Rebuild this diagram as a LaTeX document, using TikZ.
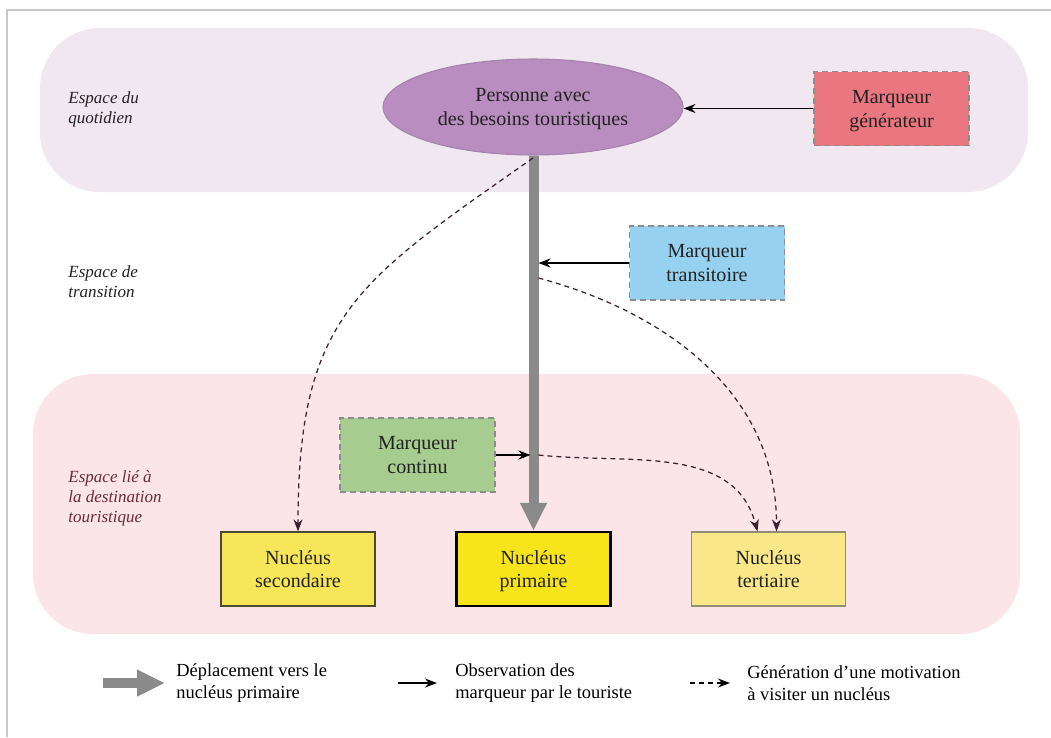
\documentclass[tikz,border=0pt]{standalone}
\usepackage{fontspec}
\setmainfont{Liberation Serif}
\usepackage{xcolor}
\usepackage{tikz}
\usetikzlibrary{arrows.meta,shapes.geometric,backgrounds}

\definecolor{quotbg}{HTML}{F1E7F1}
\definecolor{destbg}{HTML}{FBE5E8}
\definecolor{persfill}{HTML}{B98DBF}
\definecolor{persline}{HTML}{A384AA}
\definecolor{genfill}{HTML}{EA7680}
\definecolor{transfill}{HTML}{96D2EF}
\definecolor{contfill}{HTML}{A6CC8F}
\definecolor{secfill}{HTML}{F7E657}
\definecolor{primfill}{HTML}{F7E41A}
\definecolor{tertfill}{HTML}{F9E78A}
\definecolor{marqline}{HTML}{8C8C8C}
\definecolor{bargray}{HTML}{8A8A8A}
\definecolor{motivcol}{HTML}{3A2030}
\definecolor{textdark}{HTML}{222222}
\definecolor{destlbl}{HTML}{6B2B3B}
\definecolor{framegray}{HTML}{C8C8C8}

\begin{document}
\begin{tikzpicture}[
    font=\rmfamily\fontsize{11.4}{13.6}\selectfont,
    >={Stealth[length=2.4mm]},
    band/.style   ={rounded corners=1.2cm, inner sep=0pt},
    boxtxt/.style ={align=center, text=textdark, inner sep=2pt,
                    execute at begin node=\strut, text depth=0pt},
    marq/.style   ={boxtxt, draw=marqline, dash pattern=on 1.2mm off 0.8mm, line width=0.8pt,
                    minimum width=3.1cm, minimum height=1.48cm},
    nucl/.style   ={boxtxt, line width=0.7pt, minimum width=3.08cm, minimum height=1.48cm},
    espace/.style ={font=\rmfamily\fontsize{9.7}{11.4}\selectfont\itshape, align=left,
                    anchor=west, inner sep=0pt, text=textdark},
    legtxt/.style ={font=\rmfamily\fontsize{10.5}{12.5}\selectfont, align=left,
                    anchor=west, inner sep=0pt},
    depl/.style   ={-{Triangle[length=5.6mm, width=5mm]}, line width=2mm, draw=bargray},
    obs/.style    ={->, line width=0.8pt, draw=black},
    motiv/.style  ={->, line width=0.7pt, dash pattern=on 1mm off 0.8mm, draw=motivcol}
]

\useasboundingbox (0,0) rectangle (21.02,-14.74);

% --- Screenshot frame (top and left edges only). ---
\draw[framegray, line width=0.8pt] (21.02,-0.2) -- (0.14,-0.2) -- (0.14,-14.74);

% --- The two coloured spaces. ---
\node[band, fill=quotbg, minimum width=19.76cm, minimum height=3.28cm]
  (bandquot) at (10.68,-2.20) {};
\node[band, fill=destbg, minimum width=19.74cm, minimum height=5.2cm]
  (banddest) at (10.53,-10.08) {};

\node[espace] (lblquot)  at (1.36,-2.18) {Espace du\\quotidien};
\node[espace] (lbltrans) at (1.36,-5.64) {Espace de\\transition};
\node[espace, text=destlbl] (lbldest) at (1.36,-9.96)
  {Espace lié à\\la destination\\touristique};

% --- Tourist and markers. ---
\node[boxtxt, ellipse, draw=persline, line width=0.6pt, fill=persfill, minimum width=6cm,
      minimum height=1.92cm, inner sep=0pt]
  (pers) at (10.66,-2.14) {Personne avec\\des besoins touristiques};
\node[marq, fill=genfill]   (gen)   at (17.83,-2.17) {Marqueur\\générateur};
\node[marq, fill=transfill] (trans) at (14.14,-5.26) {Marqueur\\transitoire};
\node[marq, fill=contfill]  (cont)  at ( 8.35,-9.10) {Marqueur\\continu};

% --- Nuclei row. ---
\node[nucl, draw=black!60!olive, fill=secfill]      (sec)  at ( 5.96,-11.38) {Nucléus\\secondaire};
\node[nucl, draw=black, line width=1.2pt, fill=primfill] (prim) at (10.67,-11.38) {Nucléus\\primaire};
\node[nucl, draw=gray!80!olive, fill=tertfill]      (tert) at (15.37,-11.38) {Nucléus\\tertiaire};

% --- Travel towards the primary nucleus. ---
\draw[depl] (pers.south -| prim.north) -- (prim.north);

% --- Points where the markers meet the travel line. ---
\coordinate (ongen)    at (gen.west -| pers.east);
\coordinate (ontrans)  at ([xshift=1mm]trans.west -| prim.north);
\coordinate (offtrans) at ([xshift=1mm,yshift=-3mm]trans.west -| prim.north);
\coordinate (oncont)   at ([xshift=-0.6mm]cont.east -| prim.north);
\coordinate (offcont)  at ([xshift=1mm]cont.east -| prim.north);

% --- Observation of the markers. ---
\draw[obs] (gen.west)   -- (ongen);
\draw[obs] (trans.west) -- (ontrans);
\draw[obs] (cont.east)  -- (oncont);

% --- Motivations to visit a nucleus. ---
\draw[motiv] ([yshift=-0.5mm]pers.south) to[out=215, in=90, looseness=1.25] (sec.north);
\draw[motiv] (offtrans) to[out=-15, in=90] ([xshift=0.16cm]tert.north);
\draw[motiv] (offcont)  to[out=-6, in=105] ([xshift=-0.22cm]tert.north);

% --- Legend. ---
\coordinate (leg1a) at (2.06,-13.66);
\coordinate (leg1b) at (3.30,-13.66);
\coordinate (leg2a) at (7.96,-13.66);
\coordinate (leg2b) at (8.74,-13.66);
\coordinate (leg3a) at (13.80,-13.66);
\coordinate (leg3b) at (14.60,-13.66);
\node[legtxt] (leg1) at (3.52,-13.66)  {Déplacement vers le\\nucléus primaire};
\node[legtxt] (leg2) at (9.10,-13.66)  {Observation des\\marqueur par le touriste};
\node[legtxt] (leg3) at (14.94,-13.66) {Génération d’une motivation\\à visiter un nucléus};
\draw[depl]  (leg1a) -- (leg1b);
\draw[obs]   (leg2a) -- (leg2b);
\draw[motiv, draw=black] (leg3a) -- (leg3b);

\end{tikzpicture}
\end{document}
